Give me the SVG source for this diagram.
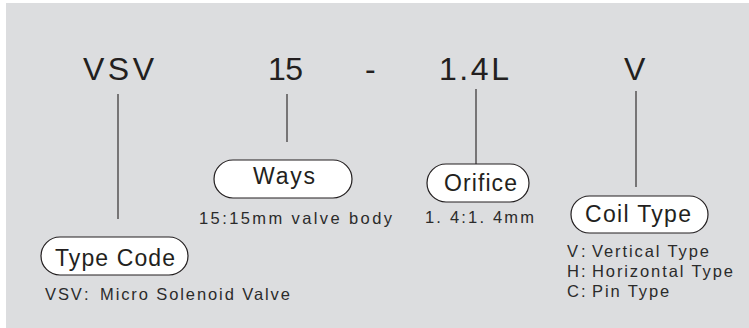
<svg xmlns="http://www.w3.org/2000/svg" width="749" height="328" viewBox="0 0 749 328">
<style>
.big{font-family:"Liberation Sans",sans-serif;font-size:32px;fill:#231f20}
.lbl{font-family:"Liberation Sans",sans-serif;font-size:23px;fill:#231f20}
.sm{font-family:"Liberation Sans",sans-serif;font-size:16.5px;letter-spacing:1.9px;fill:#2b2b2b}
.box{fill:#ffffff;stroke:#231f20;stroke-width:1.2}
.ln{stroke:#231f20;stroke-width:1.1;fill:none}
</style>
<rect x="6" y="3" width="743" height="325" fill="#dcdddf"/>
<g id="code">
<text class="big" x="83" y="80" textLength="71">VSV</text>
<text class="big" x="268" y="80" textLength="35">15</text>
<text class="big" x="365" y="80">-</text>
<text class="big" x="439" y="80" textLength="70">1.4L</text>
<text class="big" x="624" y="80">V</text>
</g>
<g id="connectors">
<line class="ln" x1="118" y1="94" x2="118" y2="219"/>
<line class="ln" x1="287" y1="94" x2="287" y2="142"/>
<line class="ln" x1="476" y1="89" x2="476" y2="164"/>
<line class="ln" x1="636" y1="91" x2="636" y2="187"/>
</g>
<g id="type-code">
<rect class="box" x="41" y="237" width="147" height="38" rx="19"/>
<text class="lbl" x="55" y="266" textLength="120">Type Code</text>
<text class="sm" x="45" y="300">VSV<tspan x="84">:</tspan><tspan x="100">Micro Solenoid Valve</tspan></text>
</g>
<g id="ways">
<rect class="box" x="214" y="160" width="138" height="38" rx="19"/>
<text class="lbl" x="253" y="184" textLength="62">Ways</text>
<text class="sm" x="199" y="224" textLength="193" style="letter-spacing:0">15:15mm valve body</text>
</g>
<g id="orifice">
<rect class="box" x="427" y="164" width="102" height="38" rx="19"/>
<text class="lbl" x="444" y="191" textLength="73">Orifice</text>
<text class="sm" x="425" y="223" textLength="109" style="letter-spacing:0">1. 4:1. 4mm</text>
</g>
<g id="coil-type">
<rect class="box" x="571" y="196" width="137" height="37" rx="18.5"/>
<text class="lbl" x="585" y="222" textLength="106">Coil Type</text>
<text class="sm" x="567" y="257">V<tspan x="581">:</tspan><tspan x="592">Vertical Type</tspan></text>
<text class="sm" x="567" y="277">H<tspan x="581">:</tspan><tspan x="592">Horizontal Type</tspan></text>
<text class="sm" x="567" y="297">C<tspan x="581">:</tspan><tspan x="592">Pin Type</tspan></text>
</g>
</svg>
